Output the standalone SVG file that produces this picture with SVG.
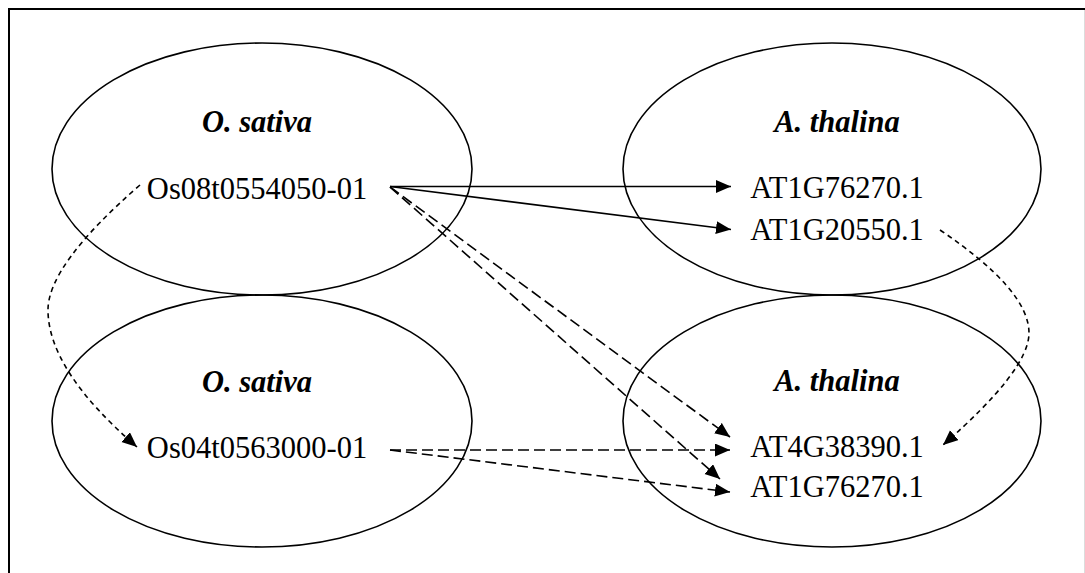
<svg xmlns="http://www.w3.org/2000/svg" width="1085" height="573" viewBox="0 0 1085 573">
  <style>
    .frame { stroke: #000; stroke-width: 2; fill: none; }
    .species { fill: #fff; fill-opacity: 0; stroke: #000; stroke-width: 1.6; }
    .title { font-family: "Liberation Serif", "Times New Roman", serif; font-size: 30.5px; font-weight: bold; font-style: italic; text-anchor: middle; fill: #000; }
    .gene { font-family: "Liberation Serif", "Times New Roman", serif; font-size: 30.5px; text-anchor: middle; fill: #000; }
    .solid { stroke: #000; stroke-width: 1.6; fill: none; marker-end: url(#head); }
    .dashed { stroke: #000; stroke-width: 1.6; fill: none; stroke-dasharray: 11 5; marker-end: url(#head); }
    .dotted { stroke: #000; stroke-width: 1.6; fill: none; stroke-dasharray: 5 4; marker-end: url(#head); }
  </style>
  <defs>
    <marker id="head" markerUnits="userSpaceOnUse" markerWidth="16" markerHeight="14" refX="15" refY="6.5" orient="auto">
      <path d="M0,0 L15,6.5 L0,13 z" fill="#000"/>
    </marker>
  </defs>

  <rect width="1085" height="573" fill="#fff"/>
  <!-- page frame -->
  <path class="frame" d="M8,9 H1085 M9,8 V573"/>
  <line x1="1084.5" y1="10" x2="1084.5" y2="573" stroke="#dcdcdc" stroke-width="1"/>

  <g id="os-top">
    <ellipse class="species" cx="262" cy="169" rx="210" ry="126"/>
    <text class="title" x="257" y="132">O. sativa</text>
    <text class="gene" x="257" y="199">Os08t0554050-01</text>
  </g>

  <g id="os-bottom">
    <ellipse class="species" cx="262" cy="421" rx="210" ry="126"/>
    <text class="title" x="257" y="392">O. sativa</text>
    <text class="gene" x="257" y="458">Os04t0563000-01</text>
  </g>

  <g id="at-top">
    <ellipse class="species" cx="832" cy="169" rx="209" ry="126"/>
    <text class="title" x="837" y="132">A. thalina</text>
    <text class="gene" x="837" y="198">AT1G76270.1</text>
    <text class="gene" x="837" y="240">AT1G20550.1</text>
  </g>

  <g id="at-bottom">
    <ellipse class="species" cx="832" cy="421" rx="209" ry="126"/>
    <text class="title" x="837" y="391">A. thalina</text>
    <text class="gene" x="837" y="457">AT4G38390.1</text>
    <text class="gene" x="837" y="497">AT1G76270.1</text>
  </g>

  <g id="connectors">
    <!-- solid links from Os08t0554050-01 -->
    <line class="solid" x1="390" y1="186.5" x2="731" y2="186.5"/>
    <line class="solid" x1="390" y1="186.5" x2="731" y2="229.5"/>
    <!-- dashed links from Os08t0554050-01 -->
    <line class="dashed" x1="390" y1="187" x2="730" y2="437"/>
    <line class="dashed" x1="390" y1="187" x2="720" y2="479"/>
    <!-- dashed links from Os04t0563000-01 -->
    <line class="dashed" x1="390" y1="450" x2="730" y2="450"/>
    <line class="dashed" x1="390" y1="450" x2="730" y2="492"/>
    <!-- dotted curves -->
    <path class="dotted" d="M140,185 Q48,265 48,310 Q48,370 137,447"/>
    <path class="dotted" d="M940,230 Q1029,290 1029,333 Q1029,370 943,445"/>
  </g>
</svg>
